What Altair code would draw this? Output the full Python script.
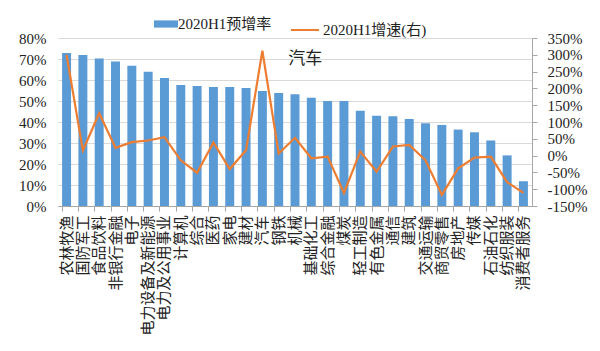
import altair as alt
import pandas as pd

categories = ["农林牧渔", "国防军工", "食品饮料", "非银行金融", "电子", "电力设备及新能源",
              "电力及公用事业", "计算机", "综合", "医药", "家电", "建材", "汽车", "钢铁",
              "机械", "基础化工", "综合金融", "煤炭", "轻工制造", "有色金属", "通信", "建筑",
              "交通运输", "商贸零售", "房地产", "传媒", "石油石化", "纺织服装", "消费者服务"]
pre_increase = [72.9, 71.9, 70.2, 68.8, 66.8, 63.9, 60.9, 57.6, 57.1, 56.7, 56.7, 56.2,
                54.8, 53.8, 53.2, 51.5, 50.0, 50.0, 45.3, 43.0, 42.7, 41.4, 39.4, 38.6,
                36.4, 35.1, 31.2, 24.1, 11.8]
growth = [300, 15, 126, 23, 40, 45, 55, -14, -51, 39, -40, 16, 312, 6, 53, -8, -3, -111,
          12, -48, 27, 32, -14, -117, -38, -6, -3, -79, -111]
left_ticks = [0, 10, 20, 30, 40, 50, 60, 70, 80]
right_ticks = [-150, -100, -50, 0, 50, 100, 150, 200, 250, 300, 350]
series_bar = "2020H1预增率"
series_line = "2020H1增速(右)"
annotation_text = "汽车"
annotation_cat = "汽车"
annotation_y = 70

BLUE = "#5B9BD5"
ORANGE = "#ED7D31"
SERIF = "Liberation Serif, Noto Sans CJK SC"
CJK = "Noto Sans CJK SC"

df = pd.DataFrame({
    "cat": categories,
    "pre": pre_increase,
    "growth": growth,
    "idx": list(range(len(categories))),
    "s1": [series_bar] * len(categories),
    "s2": [series_line] * len(categories),
})
ann = pd.DataFrame({"cat": [annotation_cat], "anny": [annotation_y], "ann": [annotation_text]})

xenc = alt.X("cat:N", sort=categories, title=None,
             scale=alt.Scale(paddingInner=0.45, paddingOuter=0.25),
             axis=alt.Axis(labelAngle=-90, labelFont=CJK, labelFontSize=15,
                           labelColor="#222", labelPadding=4, bandPosition=0,
                           tickColor="#a6a6a6", tickSize=5, domainColor="#a6a6a6",
                           labelLimit=200))

bars = alt.Chart(df).mark_bar().encode(
    x=xenc,
    y=alt.Y("pre:Q", title=None, scale=alt.Scale(domain=[0, 80], nice=False),
            axis=alt.Axis(values=left_ticks, labelExpr="datum.value + '%'",
                          labelFont=SERIF, labelFontSize=15, labelColor="#222",
                          ticks=False, domain=False, labelPadding=12, labelOverlap=False,
                          grid=True, gridColor="#d9d9d9")),
    fill=alt.Fill("s1:N", scale=alt.Scale(range=[BLUE]),
                  legend=alt.Legend(title=None, orient="none", legendX=99, legendY=-23,
                                    symbolType="M-1.5,-0.45H1.5V0.45H-1.5Z", symbolSize=256,
                                    labelFont=SERIF, labelFontSize=15, labelColor="#222",
                                    labelOffset=3)),
)

ann_text = alt.Chart(ann).mark_text(font=CJK, fontSize=17, dx=43, color="#222").encode(
    x=alt.X("cat:N", sort=categories),
    y=alt.Y("anny:Q", scale=alt.Scale(domain=[0, 80], nice=False), axis=None),
    text="ann:N",
)

line = alt.Chart(df).mark_line(strokeWidth=2.2).encode(
    x=alt.X("cat:N", sort=categories),
    y=alt.Y("growth:Q", title=None, scale=alt.Scale(domain=[-150, 350], nice=False),
            axis=alt.Axis(orient="right", values=right_ticks,
                          labelExpr="datum.value + '%'",
                          labelFont=SERIF, labelFontSize=15, labelColor="#222",
                          tickColor="#a6a6a6", tickSize=5, domainColor="#a6a6a6",
                          labelPadding=10, labelOverlap=False, grid=False)),
    stroke=alt.Stroke("s2:N", scale=alt.Scale(range=[ORANGE]),
                      legend=alt.Legend(title=None, orient="none", legendX=232, legendY=-23,
                                        symbolType="stroke", symbolStrokeWidth=2,
                                        symbolSize=784,
                                        labelFont=SERIF, labelFontSize=15, labelColor="#222",
                                        labelOffset=3)),
    order=alt.Order("idx:Q"),
)

chart = alt.layer(bars, ann_text, line).resolve_scale(
    y="independent", fill="independent", stroke="independent"
).properties(
    width=474, height=168,
    autosize=alt.AutoSizeParams(type="none"),
    padding={"left": 58, "top": 38, "right": 68, "bottom": 145},
    background="white",
).configure_view(stroke=None)

chart.save("out.html", embed_options={"renderer": "svg", "actions": False})
